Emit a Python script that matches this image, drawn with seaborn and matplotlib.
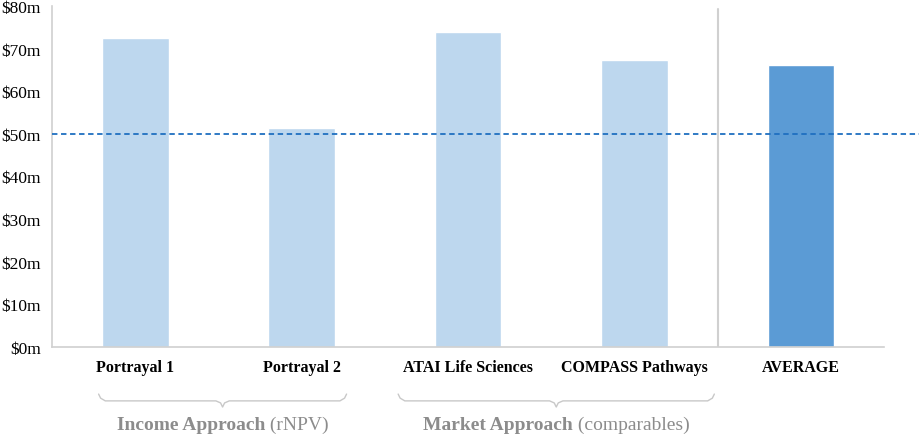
import matplotlib
matplotlib.use('Agg')
import matplotlib.pyplot as plt
import matplotlib.transforms as mtransforms
import numpy as np
import pandas as pd
import seaborn as sns

# data
categories = ['Portrayal 1', 'Portrayal 2', 'ATAI Life Sciences', 'COMPASS Pathways', 'AVERAGE']
values = [72.4, 51.3, 73.9, 67.3, 66.2]
bar_colors = ['#BDD7EE', '#BDD7EE', '#BDD7EE', '#BDD7EE', '#5B9BD5']
y_ticks = [0, 10, 20, 30, 40, 50, 60, 70, 80]
threshold = 50
groups = [('Income Approach', ' (rNPV)', -0.22, 1.27),
          ('Market Approach', ' (comparables)', 1.58, 3.48)]

df = pd.DataFrame({'name': categories, 'value': values})

sns.set_style('white')
plt.rcParams['font.family'] = ['Liberation Serif', 'DejaVu Serif']

fig = plt.figure(figsize=(9.19, 4.35), dpi=100)
ax = fig.add_axes([0.0566, 0.2, 0.9054, 0.784])

sns.barplot(data=df, x='name', y='value', hue='name', palette=bar_colors,
            width=0.4, saturation=1, legend=False, ax=ax)

ax.set_xlim(-0.5, 4.5)
ax.set_ylim(0, 80)
ax.set_yticks(y_ticks)
ax.set_yticklabels(['$%dm' % v for v in y_ticks], fontsize=12.5, color='black')
ax.set_xticks(range(len(categories)))
ax.set_xticklabels(categories, fontsize=11.5, fontweight='bold', color='black')
ax.set_xticks(np.arange(-0.5, 5, 1), minor=True)
ax.tick_params(axis='x', which='major', length=0, pad=9)
ax.tick_params(axis='x', which='minor', length=5, color='#d0d0d0', width=1)
ax.tick_params(axis='y', length=4, color='#d0d0d0', width=1, pad=4)
ax.set_xlabel('')
ax.set_ylabel('')

for s in ['top', 'right']:
    ax.spines[s].set_visible(False)
for s in ['left', 'bottom']:
    ax.spines[s].set_color('#d0d0d0')
    ax.spines[s].set_linewidth(1.2)

# separator before average
ax.plot([3.5, 3.5], [0, 79.3], color='#d0d0d0', lw=1.5, zorder=1)

# target line
ax.axhline(threshold, xmin=0, xmax=1.045, color='#1F6FC0', lw=1.3,
           ls=(0, (3, 2)), clip_on=False, zorder=3)

# braces + group labels
trans = mtransforms.blended_transform_factory(ax.transData, ax.transAxes)
top, mid, tip = -0.138, -0.158, -0.176
for bold, rest, x0, x1 in groups:
    xc = (x0 + x1) / 2
    r = 0.04
    xs = [x0, x0 + r * 0.3, x0 + r, xc - r, xc - r * 0.3, xc, xc + r * 0.3, xc + r, x1 - r, x1 - r * 0.3, x1]
    ys = [top, mid + 0.008, mid, mid, mid - 0.006, tip, mid - 0.006, mid, mid, mid + 0.008, top]
    ax.plot(xs, ys, color='#c8c8c8', lw=1, transform=trans, clip_on=False)

    t1 = ax.text(xc, -0.226, bold, transform=trans, fontsize=14, fontweight='bold',
                 color='#8c8c8c', ha='left', va='center')
    t2 = ax.annotate(rest, xy=(1, 0), xycoords=t1, fontsize=14, color='#8c8c8c',
                     ha='left', va='bottom')
    fig.canvas.draw()
    b1 = t1.get_window_extent()
    b2 = t2.get_window_extent()
    total = b2.x1 - b1.x0
    xpix = ax.transData.transform((xc, 0))[0] - total / 2
    xdata = ax.transData.inverted().transform((xpix, 0))[0]
    t1.set_x(xdata)

fig.savefig('out.png', dpi=100)
